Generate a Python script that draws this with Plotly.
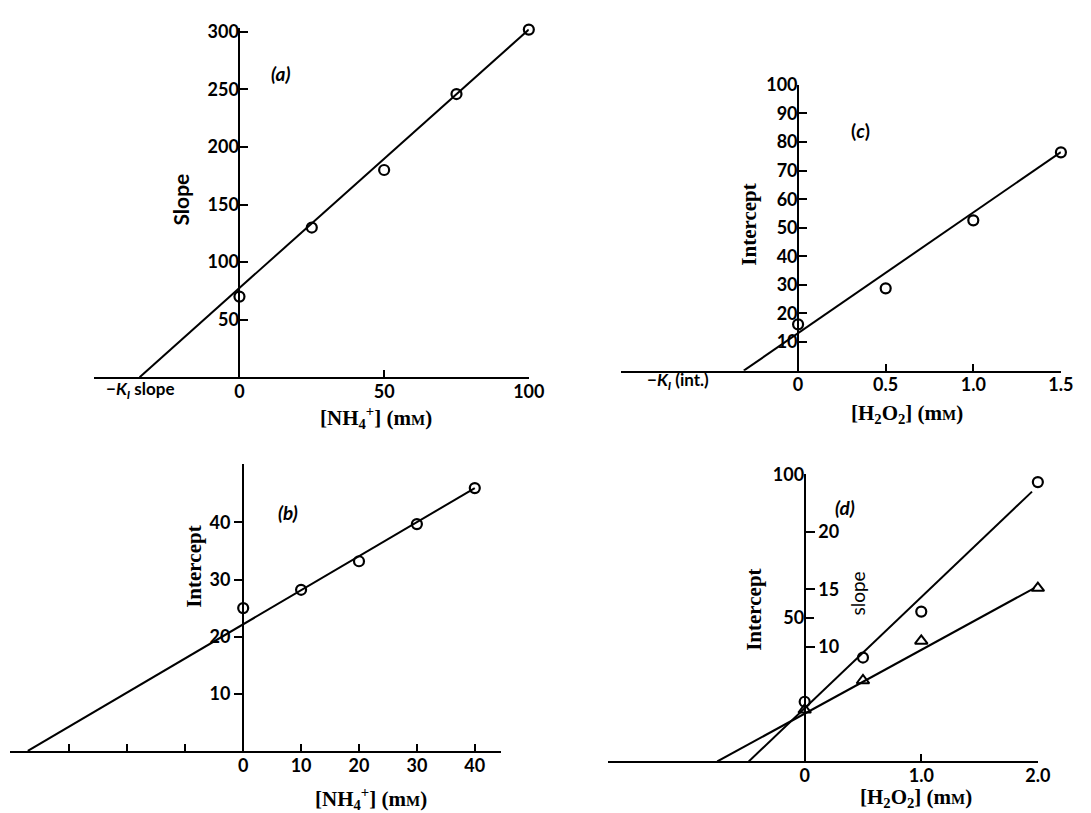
import plotly.graph_objects as go

W, H = 1091, 813

# ---------------- data ----------------
# Panel (a): slope replot vs [NH4+]
a_nh4 = [0, 25, 50, 75, 100]
a_slope = [70, 130, 180, 246, 302]
a_fit_x = [-34.5, 100]
a_fit_y = [0, 302]

# Panel (b): intercept replot vs [NH4+]
b_nh4 = [0, 10, 20, 30, 40]
b_intercept = [25, 28.2, 33.2, 39.7, 46]
b_fit_x = [-37.2, 40]
b_fit_y = [0, 46]

# Panel (c): intercept replot vs [H2O2]
c_h2o2 = [0, 0.5, 1.0, 1.5]
c_intercept = [16.2, 28.8, 52.6, 76.4]
c_fit_x = [-0.31, 1.5]
c_fit_y = [0, 76.5]

# Panel (d): intercept (circles) and slope (triangles) vs [H2O2]
d_h2o2 = [0, 0.5, 1.0, 2.0]
d_intercept = [20.8, 36.2, 52.2, 97.3]
d_slope = [4.5, 7.05, 10.5, 15.1]
d_int_fit_x = [-0.48, 1.95]
d_int_fit_y = [0, 94]
d_slope_fit_x = [-0.75, 1.97]
d_slope_fit_y = [0, 15.1]

# tick labels
a_xticks = [0, 50, 100]
a_yticks = [50, 100, 150, 200, 250, 300]
b_xticks = [0, 10, 20, 30, 40]
b_xminor = [-30, -20, -10]
b_yticks = [10, 20, 30, 40]
c_xticks = [0, 0.5, 1.0, 1.5]
c_xticktext = ["0", "0.5", "1.0", "1.5"]
c_yticks = [10, 20, 30, 40, 50, 60, 70, 80, 90, 100]
d_xticks = [0, 1.0, 2.0]
d_xticktext = ["0", "1.0", "2.0"]
d_yticks = [50, 100]
d_slope_ticks = [10, 15, 20]

# ---------------- style helpers ----------------
def fx(p):
    return p / W

def fy(p):
    return 1 - p / H

SANS = "Lato"
SERIF = "Liberation Serif"
INK = "black"
tickfont = dict(family=SANS, size=18, color=INK, weight="bold")

mM = "(m<span style='font-size:15px'>M</span>)"

marker_circle = dict(symbol="circle-open", size=10, color=INK, line=dict(width=2.2, color=INK))
marker_tri = dict(symbol="triangle-up-open", size=11, color=INK, line=dict(width=2, color=INK))
fit_line = dict(color=INK, width=2)

fig = go.Figure()

# (a)
fig.add_trace(go.Scatter(x=a_fit_x, y=a_fit_y, mode="lines", line=fit_line, xaxis="x", yaxis="y", showlegend=False))
fig.add_trace(go.Scatter(x=a_nh4, y=a_slope, mode="markers", marker=marker_circle, cliponaxis=False, xaxis="x", yaxis="y", showlegend=False))
# (c)
fig.add_trace(go.Scatter(x=c_fit_x, y=c_fit_y, mode="lines", line=fit_line, xaxis="x2", yaxis="y2", showlegend=False))
fig.add_trace(go.Scatter(x=c_h2o2, y=c_intercept, mode="markers", marker=marker_circle, cliponaxis=False, xaxis="x2", yaxis="y2", showlegend=False))
# (b)
fig.add_trace(go.Scatter(x=b_fit_x, y=b_fit_y, mode="lines", line=fit_line, xaxis="x3", yaxis="y3", showlegend=False))
fig.add_trace(go.Scatter(x=b_nh4, y=b_intercept, mode="markers", marker=marker_circle, cliponaxis=False, xaxis="x3", yaxis="y3", showlegend=False))
# (d)
fig.add_trace(go.Scatter(x=d_int_fit_x, y=d_int_fit_y, mode="lines", line=fit_line, xaxis="x4", yaxis="y4", showlegend=False))
fig.add_trace(go.Scatter(x=d_h2o2, y=d_intercept, mode="markers", marker=marker_circle, cliponaxis=False, xaxis="x4", yaxis="y4", showlegend=False))
fig.add_trace(go.Scatter(x=d_slope_fit_x, y=d_slope_fit_y, mode="lines", line=fit_line, xaxis="x4", yaxis="y5", showlegend=False))
fig.add_trace(go.Scatter(x=d_h2o2, y=d_slope, mode="markers", marker=marker_tri, cliponaxis=False, xaxis="x4", yaxis="y5", showlegend=False))


def xax(domain_px, rng, anchor, tickvals, ticktext=None, minor=None):
    d = dict(domain=[fx(domain_px[0]), fx(domain_px[1])], range=rng, anchor=anchor,
             showline=True, linecolor=INK, linewidth=2, showgrid=False, zeroline=False,
             ticks="inside", ticklen=7, tickwidth=2, tickcolor=INK, ticklabelstandoff=-3,
             tickvals=tickvals, tickfont=tickfont, fixedrange=True)
    if ticktext is not None:
        d["ticktext"] = ticktext
    if minor is not None:
        d["minor"] = dict(tickvals=minor, ticks="inside", ticklen=7, tickwidth=2, tickcolor=INK, showgrid=False)
    return d


def yax(domain_px, rng, pos_px, tickvals, ticks="inside", standoff=0):
    return dict(domain=[fy(domain_px[1]), fy(domain_px[0])], range=rng, anchor="free", position=fx(pos_px),
                showline=True, linecolor=INK, linewidth=2, showgrid=False, zeroline=False,
                ticks=ticks, ticklen=8, tickwidth=2, tickcolor=INK, ticklabelstandoff=standoff,
                tickvals=tickvals, tickfont=tickfont, fixedrange=True)


layout = dict(
    width=W, height=H, autosize=False,
    margin=dict(l=0, r=0, t=0, b=0, pad=0),
    paper_bgcolor="white", plot_bgcolor="white",
    showlegend=False,
)

# (a)
layout["xaxis"] = xax((95, 536.7), [-50.4, 100], "y", a_xticks)
layout["yaxis"] = yax((16.7, 370.6), [0, 303], 243, a_yticks, standoff=-4)
# (c)
layout["xaxis2"] = xax((630, 1076.7), [-1.012, 1.5], "y2", c_xticks, c_xticktext)
layout["yaxis2"] = yax((74, 364), [0, 100], 810, c_yticks, standoff=-4)
# (b)
layout["xaxis3"] = xax((10, 508.3), [-40.3, 44.5], "y3", b_xticks, minor=b_xminor)
layout["yaxis3"] = yax((458.3, 750), [0, 50.3], 246.7, b_yticks, ticks="outside", standoff=0)
# (d)
layout["xaxis4"] = xax((616.7, 1053.3), [-1.69, 2.0], "y4", d_xticks, d_xticktext)
layout["yaxis4"] = yax((469.3, 760.7), [0, 100], 816.7, d_yticks, standoff=-4)
layout["yaxis5"] = dict(overlaying="y4", anchor="free", position=fx(816.7), side="right", range=[0, 25],
                        showline=False, showgrid=False, zeroline=False,
                        ticks="outside", ticklen=9, tickwidth=2, tickcolor=INK,
                        tickvals=d_slope_ticks, tickfont=dict(family=SANS, size=18, color=INK, weight="bold"),
                        fixedrange=True)

fig.update_layout(**layout)

def ann(text, x, y, size=16, family=SANS, angle=0, **font_kw):
    fig.add_annotation(text=text, x=fx(x), y=fy(y), xref="paper", yref="paper",
                       showarrow=False, xanchor="center", yanchor="middle", textangle=angle,
                       font=dict(family=family, size=size, color=INK, **font_kw))

# panel letters
ann("<i>(a)</i>", 285, 62, size=19, weight="bold")
ann("<i>(b)</i>", 292, 508, size=19, weight="bold")
ann("(<i>c</i>)", 873, 120, size=19, weight="bold")
ann("<i>(d)</i>", 858, 503, size=19, weight="bold")

# -Ki labels on the x axes
ann("\u2212<i>K<sub>I</sub></i> slope", 142, 384, size=17, weight="bold")
ann("\u2212<i>K<sub>I</sub></i> (int.)", 688, 375, size=17, weight="bold")

# x-axis titles
ann("[NH<sub>4</sub><sup>+</sup>] " + mM, 382, 412, size=21, family=SERIF, weight="bold")
ann("[NH<sub>4</sub><sup>+</sup>] " + mM, 377, 798, size=21, family=SERIF, weight="bold")
ann("[H<sub>2</sub>O<sub>2</sub>] " + mM, 920, 408, size=21, family=SERIF, weight="bold")
ann("[H<sub>2</sub>O<sub>2</sub>] " + mM, 930, 798, size=21, family=SERIF, weight="bold")

# y-axis titles
ann("Slope", 183, 190, size=21, family=SANS, angle=-90, weight="bold")
ann("Intercept", 760, 216, size=21, family=SERIF, angle=-90, weight="bold")
ann("Intercept", 197, 563, size=21, family=SERIF, angle=-90, weight="bold")
ann("Intercept", 765, 607, size=21, family=SERIF, angle=-90, weight="bold")
ann("slope", 870, 590, size=19, family=SANS, angle=-90)

fig.write_html(
    "out.html",
    config={"displayModeBar": False},
    post_script=(
        "document.documentElement.style.margin='0';"
        "document.body.style.margin='0';document.body.style.overflow='hidden';"
        "var gd=document.getElementById('{plot_id}');"
        "gd.style.position='fixed';gd.style.top='0px';gd.style.left='0px';"
    ),
)
